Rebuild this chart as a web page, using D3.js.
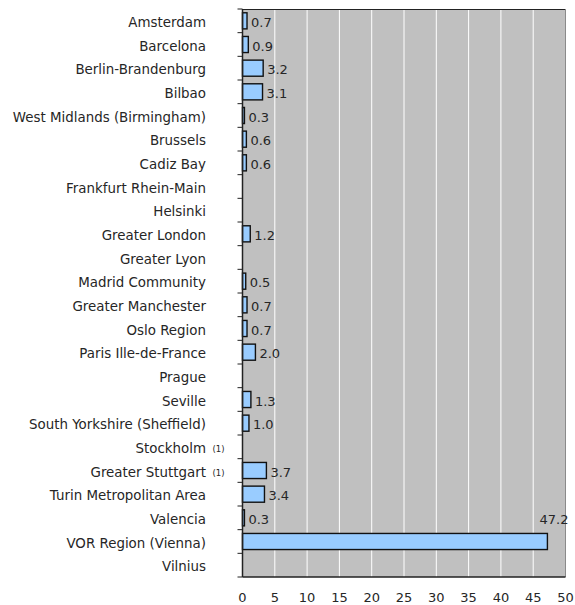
<!DOCTYPE html>
<html>
<head>
<meta charset="utf-8">
<script src="https://cdn.jsdelivr.net/npm/d3@7"></script>
<style>
  html, body { margin: 0; padding: 0; background: #fff; }
  svg text { font-family: "DejaVu Sans", Verdana, sans-serif; fill: #262626; }
</style>
</head>
<body>
<svg id="chart" width="575" height="605"></svg>
<script>
// Regions shown on the category axis, top to bottom
const regions = [
  "Amsterdam", "Barcelona", "Berlin-Brandenburg", "Bilbao",
  "West Midlands (Birmingham)", "Brussels", "Cadiz Bay",
  "Frankfurt Rhein-Main", "Helsinki", "Greater London", "Greater Lyon",
  "Madrid Community", "Greater Manchester", "Oslo Region",
  "Paris Ille-de-France", "Prague", "Seville",
  "South Yorkshire (Sheffield)", "Stockholm", "Greater Stuttgart",
  "Turin Metropolitan Area", "Valencia", "VOR Region (Vienna)", "Vilnius"
];
// Values; null where no figure is available
const values = [
  0.7, 0.9, 3.2, 3.1, 0.3, 0.6, 0.6,
  null, null, 1.2, null,
  0.5, 0.7, 0.7, 2.0, null, 1.3,
  1.0, null, 3.7, 3.4, 0.3, 47.2, null
];
// Footnote markers attached to some region labels
const notes = [
  "", "", "", "", "", "", "", "", "", "", "", "", "", "", "", "", "", "",
  "(1)", "(1)", "", "", "", ""
];
const xTicks = [0, 5, 10, 15, 20, 25, 30, 35, 40, 45, 50];

const svg = d3.select("#chart");
const plotL = 242.5, plotR = 565.5, plotT = 9, plotB = 577;
const fs = 13.4;

const x = d3.scaleLinear().domain([0, 50]).range([plotL, plotR]);
const y = d3.scaleBand().domain(regions).range([plotT, plotB]).paddingInner(0.32).paddingOuter(0.16);
const yBand = d3.scaleBand().domain(regions).range([plotT, plotB]);
const mid = r => yBand(r) + yBand.bandwidth() / 2;

// Plot background
svg.append("rect")
  .attr("x", plotL).attr("y", plotT)
  .attr("width", plotR - plotL).attr("height", plotB - plotT)
  .attr("fill", "#c0c0c0");

// Vertical gridlines
svg.append("g").selectAll("line")
  .data(xTicks.filter(d => d > 0 && d < 50))
  .join("line")
  .attr("x1", d => x(d)).attr("x2", d => x(d))
  .attr("y1", plotT).attr("y2", plotB)
  .attr("stroke", "#ffffff").attr("stroke-width", 1);

// Frame: top and right edges
svg.append("line").attr("x1", plotL).attr("x2", plotR).attr("y1", plotT + 0.5).attr("y2", plotT + 0.5)
  .attr("stroke", "#222").attr("stroke-width", 1);
svg.append("line").attr("x1", plotR).attr("x2", plotR).attr("y1", plotT).attr("y2", plotB)
  .attr("stroke", "#8a8a8a").attr("stroke-width", 1);

// Bars
const data = regions.map((r, i) => ({ region: r, value: values[i], note: notes[i] }));
svg.append("g").selectAll("rect")
  .data(data.filter(d => d.value !== null))
  .join("rect")
  .attr("x", x(0))
  .attr("y", d => y(d.region))
  .attr("width", d => Math.max(x(d.value) - x(0), 1))
  .attr("height", y.bandwidth())
  .attr("fill", "#99ccff")
  .attr("stroke", "#111")
  .attr("stroke-width", 1.4);

// Value labels: beside the bar, or above it when it would run past the frame
svg.append("g").selectAll("text")
  .data(data.filter(d => d.value !== null))
  .join("text")
  .attr("x", d => d.value > 45 ? plotR + 3 : x(d.value) + 4)
  .attr("y", d => d.value > 45 ? mid(d.region) - yBand.step() + 6 : mid(d.region) + 6)
  .attr("text-anchor", d => d.value > 45 ? "end" : "start")
  .attr("font-size", 13)
  .text(d => d3.format(".1f")(d.value));

// Category axis with ticks on band boundaries
const yAxis = svg.append("g");
yAxis.append("line").attr("x1", plotL).attr("x2", plotL).attr("y1", plotT).attr("y2", plotB)
  .attr("stroke", "#222").attr("stroke-width", 1.5);
yAxis.selectAll("line.tick")
  .data(regions.concat(["__end"]))
  .join("line")
  .attr("class", "tick")
  .attr("x1", plotL - 5).attr("x2", plotL)
  .attr("y1", (d, i) => plotT + i * yBand.step())
  .attr("y2", (d, i) => plotT + i * yBand.step())
  .attr("stroke", "#222").attr("stroke-width", 1);
yAxis.selectAll("text.label")
  .data(data)
  .join("text")
  .attr("class", "label")
  .attr("x", 206)
  .attr("y", d => mid(d.region) + 6.3)
  .attr("text-anchor", "end")
  .attr("font-size", fs)
  .text(d => d.region);
yAxis.selectAll("text.note")
  .data(data.filter(d => d.note))
  .join("text")
  .attr("class", "note")
  .attr("x", 212.5)
  .attr("y", d => mid(d.region) + 5.5)
  .attr("font-size", 8.5)
  .text(d => d.note);

// Value axis
svg.append("line").attr("x1", plotL).attr("x2", plotR).attr("y1", plotB).attr("y2", plotB)
  .attr("stroke", "#222").attr("stroke-width", 1.5);
svg.append("g").selectAll("text")
  .data(xTicks)
  .join("text")
  .attr("x", d => x(d))
  .attr("y", 602)
  .attr("text-anchor", "middle")
  .attr("font-size", 13)
  .text(d => d);
</script>
</body>
</html>
